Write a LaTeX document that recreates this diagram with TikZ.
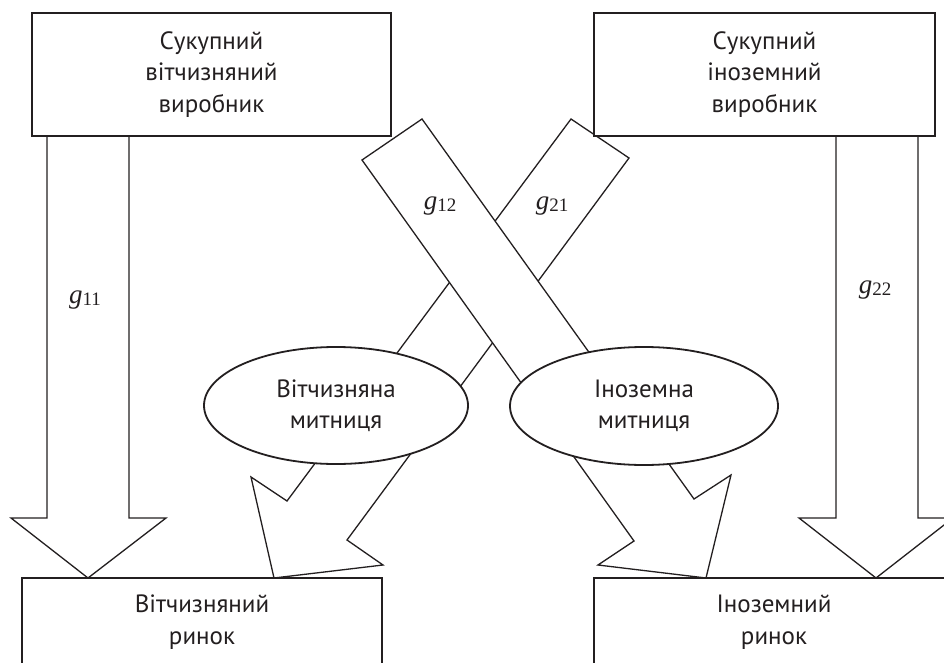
\documentclass[tikz,border=0pt]{standalone}
\usepackage{fontspec}
\setmainfont{PT Sans}
\newfontfamily\tnr{Liberation Serif}
\usetikzlibrary{shapes.geometric}
\definecolor{ink}{RGB}{35,31,32}
\newcommand{\glab}[1]{{\tnr\fontsize{27}{27}\selectfont\itshape g}\raisebox{-2.5pt}{\tnr\fontsize{19}{19}\selectfont #1}}
\begin{document}
\begin{tikzpicture}[x=1pt,y=-1pt,
  box/.style={draw=ink, line width=1.8pt, fill=white, inner sep=0pt,
    font=\fontsize{25}{31.5}\selectfont, text=ink, align=center},
  oval/.style={ellipse, draw=ink, line width=1.8pt, fill=white, inner sep=0pt,
    font=\fontsize{25}{31.5}\selectfont, text=ink, align=center},
  blockarrow/.style={draw=ink, line width=1.3pt, fill=white, line join=miter},
  glabel/.style={inner sep=0pt, text=ink}]
\useasboundingbox (0,0) rectangle (944,663);
\clip (0,0) rectangle (944,663);
% vertical block arrows
\draw[blockarrow] (47,136) -- (47,518) -- (11,518) -- (88,578) -- (166,518) -- (129,518) -- (129,136) -- cycle;
\draw[blockarrow] (836,136) -- (836,518) -- (799,518) -- (876,578) -- (953,518) -- (918,518) -- (918,136) -- cycle;
% diagonal block arrows (g21 under g12)
\draw[blockarrow] (629,158) -- (347,540) -- (383,565) -- (274,578) -- (251,477) -- (287,501) -- (571,119) -- cycle;
\draw[blockarrow] (362,160) -- (634,541) -- (598,565) -- (706,578) -- (731,475) -- (694,499) -- (422,119) -- cycle;
% customs ellipses
\node[oval, minimum width=264pt, minimum height=117pt] (dc) at (336,405.5) {Вітчизняна\\митниця};
\node[oval, minimum width=268pt, minimum height=118pt] (fc) at (644,406) {Іноземна\\митниця};
% boxes
\node[box, minimum width=359pt, minimum height=123pt] (dp) at (211.5,74.5) {Сукупний\\вітчизняний\\виробник};
\node[box, minimum width=341pt, minimum height=123pt] (fp) at (764.5,74.5) {Сукупний\\іноземний\\виробник};
\node[box, minimum width=360pt, minimum height=88pt] (dm) at (202,622) {Вітчизняний\\ринок};
\node[box, minimum width=360pt, minimum height=88pt] (fm) at (774,622) {Іноземний\\ринок};
% labels
\node[glabel] (g11) at (85,300) {\glab{11}};
\node[glabel] (g22) at (875,290) {\glab{22}};
\node[glabel] (g12) at (440,206) {\glab{12}};
\node[glabel] (g21) at (552,206) {\glab{21}};
\end{tikzpicture}
\end{document}
